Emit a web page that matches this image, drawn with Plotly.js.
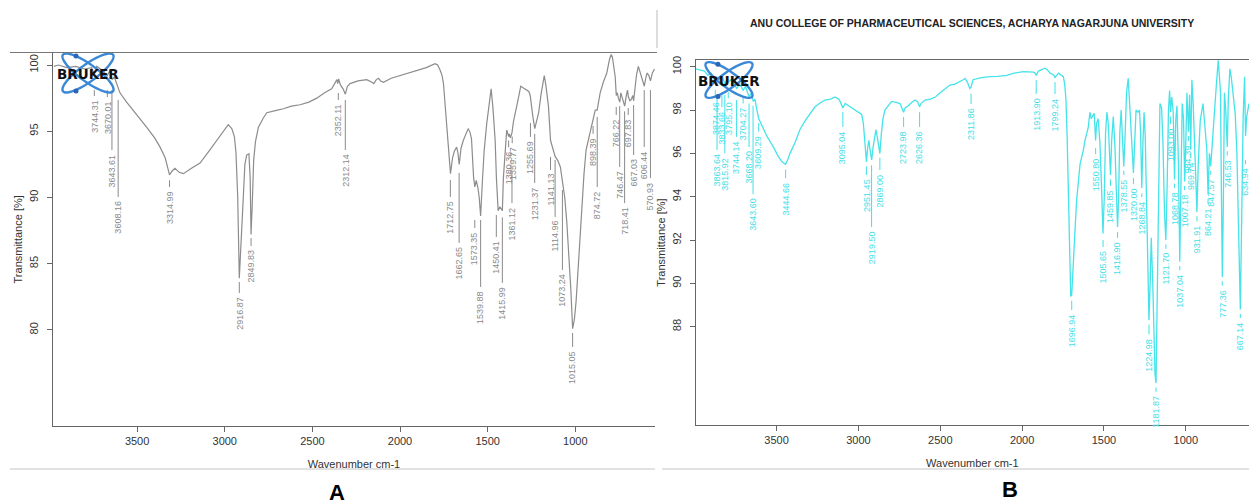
<!DOCTYPE html>
<html><head><meta charset="utf-8">
<script src="https://cdn.plot.ly/plotly-3.0.1.min.js"></script>
<style>html,body{margin:0;padding:0;background:#fff;}#chart{width:1249px;height:504px;}</style>
</head><body><div id="chart"></div>
<script>
// ---------- Spectrum A (grey) ----------
const wavenumberA = [3975,3950,3900,3850,3800,3760,3744,3730,3700,3670,3655,3643,3630,3608,3598,3560,3522,3480,3445,3400,3369,3340,3315,3300,3284,3260,3236,3190,3141,3090,3046,3010,2980,2960,2945,2936,2926,2917,2905,2894,2885,2875,2862,2855,2850,2843,2835,2825,2808,2780,2760,2700,2665,2620,2570,2520,2475,2430,2390,2360,2355,2350,2340,2325,2312,2300,2285,2240,2190,2160,2150,2135,2123,2110,2095,2050,2000,1950,1904,1850,1800,1785,1771,1760,1752,1742,1733,1720,1712,1700,1690,1677,1670,1662,1652,1639,1620,1611,1600,1592,1580,1573,1565,1555,1548,1540,1530,1520,1505,1490,1480,1470,1457,1450,1440,1430,1416,1410,1400,1391,1380,1376,1370,1361,1353,1345,1334,1320,1311,1300,1290,1277,1265,1257,1250,1242,1231,1220,1209,1195,1185,1177,1168,1160,1153,1141,1130,1122,1115,1100,1085,1073,1060,1048,1035,1025,1015,1005,995,985,975,962,950,938,920,905,898,886,875,865,858,840,820,805,795,788,780,772,766,760,754,746,740,735,725,718,710,702,697,688,680,672,667,660,650,640,630,620,612,606,598,590,580,571,560,548];
const transmittanceA = [99.9,100.0,99.8,99.9,99.7,99.8,99.3,99.9,99.6,99.2,99.6,98.9,99.1,98.2,97.9,97.2,96.6,95.9,95.3,94.5,93.8,93.0,91.7,92.0,92.2,91.9,91.8,92.2,92.6,93.5,94.3,95.0,95.5,95.2,94.6,93.4,90.0,83.9,87.0,89.8,92.5,93.2,93.3,91.5,87.2,89.5,92.8,94.2,95.3,96.0,96.4,96.6,96.7,96.9,97.0,97.2,97.5,97.9,98.2,98.9,98.6,98.95,98.5,98.2,97.8,98.4,98.6,98.8,98.9,98.7,98.6,98.9,99.0,98.8,98.7,99.0,99.2,99.4,99.6,99.8,100.1,100.0,99.6,99.2,98.6,97.0,95.6,93.2,91.8,93.0,93.5,93.8,93.4,92.5,93.7,94.3,95.0,95.2,94.9,94.4,91.5,90.8,91.3,90.7,90.0,88.6,91.2,93.5,95.6,97.3,98.2,96.8,94.3,91.5,89.0,89.3,89.0,91.5,93.5,95.1,94.6,94.8,94.5,94.9,95.7,96.3,96.9,97.8,98.4,98.3,98.2,98.1,98.0,97.7,96.8,96.1,95.2,95.8,96.4,97.8,98.8,99.2,98.5,97.8,96.9,94.3,93.8,93.5,93.1,92.8,92.3,91.2,90.0,88.1,85.5,83.0,80.1,80.8,82.2,84.3,86.8,89.3,91.8,93.6,94.7,95.6,95.8,96.6,96.6,97.3,97.9,98.7,99.4,100.4,100.8,100.6,99.8,99.1,97.7,97.9,97.5,97.2,97.9,97.7,97.3,96.9,97.6,98.1,97.6,97.3,97.4,97.7,97.3,98.2,99.3,99.9,99.5,99.1,98.7,98.4,99.0,99.4,99.2,98.8,99.4,99.7];
const peakLabelsA = ["3744.31","3670.01","3643.61","3608.16","3314.99","2916.87","2849.83","2352.11","2312.14","1712.75","1662.65","1573.35","1539.88","1450.41","1415.99","1380.36","1359.77","1361.12","1255.69","1231.37","1141.13","1114.96","1073.24","1015.05","898.39","874.72","766.22","746.47","718.41","697.83","667.03","606.44","570.93"];

// ---------- Spectrum B (cyan) ----------
const wavenumberB = [3994,3960,3940,3920,3900,3874,3863,3850,3833,3816,3800,3795,3775,3744,3725,3704,3690,3668,3652,3643,3632,3620,3609,3590,3560,3520,3489,3465,3445,3432,3418,3387,3357,3326,3296,3265,3230,3204,3170,3143,3120,3112,3095,3080,3060,3040,3021,3000,2980,2970,2960,2951,2943,2936,2928,2919,2910,2900,2893,2884,2876,2869,2860,2850,2838,2820,2797,2770,2746,2735,2724,2715,2695,2675,2654,2640,2626,2618,2593,2560,2530,2500,2470,2441,2410,2380,2360,2349,2335,2320,2312,2300,2250,2196,2150,2094,2050,1993,1950,1930,1921,1914,1900,1880,1860,1845,1829,1815,1805,1799,1790,1778,1760,1748,1740,1732,1725,1718,1710,1703,1697,1690,1680,1667,1646,1626,1616,1596,1586,1578,1570,1560,1551,1545,1535,1525,1515,1506,1498,1490,1482,1474,1466,1460,1453,1443,1433,1423,1417,1411,1403,1395,1386,1379,1372,1362,1352,1343,1330,1320,1312,1304,1292,1283,1276,1269,1262,1255,1248,1240,1232,1225,1218,1211,1202,1195,1188,1182,1176,1168,1158,1148,1140,1130,1122,1114,1106,1099,1093,1086,1077,1069,1061,1054,1045,1037,1030,1022,1014,1007,1000,993,984,977,970,963,955,945,932,924,912,895,882,872,864,856,848,838,826,813,802,795,788,783,777,771,764,756,747,740,731,722,710,698,688,678,667,659,650,641,635,628,620,614];
const transmittanceB = [99.9,99.85,99.8,99.6,99.7,99.3,99.5,99.4,99.6,99.2,99.5,99.3,99.4,99.0,99.2,98.9,99.1,98.6,98.8,98.4,98.5,98.0,97.6,97.3,96.8,96.3,95.85,95.6,95.5,95.7,96.0,96.5,97.1,97.5,97.85,98.15,98.35,98.46,98.5,98.6,98.5,98.4,98.1,98.3,98.2,98.1,98.0,97.9,97.8,97.4,96.3,95.6,96.3,96.6,96.1,95.7,96.3,96.9,97.1,96.7,96.3,96.0,96.9,97.6,98.0,98.2,98.4,98.35,98.3,98.1,97.9,98.1,98.2,98.35,98.46,98.4,98.15,98.3,98.46,98.5,98.6,98.8,99.0,99.15,99.2,99.3,99.4,99.46,99.3,99.0,99.05,99.4,99.5,99.54,99.55,99.6,99.7,99.77,99.75,99.75,99.7,99.6,99.8,99.85,99.93,99.85,99.7,99.65,99.6,99.5,99.6,99.7,99.6,99.54,99.2,98.46,96.8,93.85,91.5,89.4,89.45,90.3,92.0,93.85,95.5,96.15,96.6,97.2,97.9,97.6,97.7,97.85,96.6,97.4,97.6,96.5,94.5,92.3,94.0,97.0,97.9,97.4,96.0,95.0,96.6,97.7,96.3,93.5,92.6,93.8,97.0,98.0,96.8,95.4,96.6,98.8,99.46,98.4,96.5,95.1,96.6,98.0,97.9,98.0,96.9,94.4,96.5,97.9,96.8,93.5,89.8,88.3,90.0,92.1,90.0,87.5,85.8,85.4,88.5,94.5,98.3,98.1,96.6,93.2,92.0,94.5,98.0,98.9,97.9,98.6,97.9,94.8,97.6,98.2,95.5,91.0,94.0,98.3,97.6,94.7,96.5,98.8,97.0,98.7,96.2,99.4,98.3,95.8,93.3,95.5,97.5,98.3,97.3,96.2,94.1,96.0,95.4,96.6,97.9,99.2,100.3,99.5,98.8,94.5,90.3,93.5,98.8,98.0,96.3,98.6,99.9,99.5,98.6,97.8,96.0,92.5,88.8,92.8,97.6,99.54,96.8,97.7,98.1,98.3];
const peakLabelsB = ["3874.46","3863.64","3833.66","3815.92","3795.10","3744.14","3704.27","3668.20","3643.60","3609.29","3444.66","3095.04","2951.45","2919.50","2869.00","2723.98","2626.36","2311.86","1913.90","1799.24","1696.94","1550.80","1505.65","1459.85","1416.90","1378.55","1320.00","1268.84","1224.98","1181.87","1121.70","1093.00","1068.78","1037.04","1007.18","984.39","969.74","931.91","864.21","847.57","777.36","746.53","667.14","634.94"];

// tick values
const xTicks = [3500,3000,2500,2000,1500,1000];
const yTicksA = [80,85,90,95,100];
const yTicksB = [88,90,92,94,96,98,100];

// ---------- label leader-line layout (transmittance where line starts / ends) ----------
const labelLayoutA = [[98.11,97.66],[98.11,97.58],[98.11,93.58],[97.36,90.04],[91.3,90.79],[83.62,82.79],[86.94,86.34],[97.89,97.36],[97.36,93.58],[91.32,90.04],[91.85,86.57],[88.3,87.7],[88.3,83.25],[88.68,87.02],[88.5,83.55],[94.3,93.8],[94.6,94.1],[91.85,89.58],[95.62,94.57],[94.8,91.09],[93.06,92.08],[92.83,88.53],[90.57,84.53],[79.77,78.72],[95.4,94.8],[96.08,90.79],[96.83,96.23],[96.9,92.3],[96.5,89.58],[96.75,96.23],[96.98,93.21],[98.11,93.81],[98.11,91.47]];
const labelLayoutB = [[98.93,98.55],[98.69,96.16],[98.69,98.14],[98.69,96.0],[98.83,98.55],[98.46,96.76],[98.6,98.3],[98.3,96.29],[98.2,94.12],[97.4,97.0],[95.25,94.85],[97.91,97.22],[95.4,95.0],[95.45,92.6],[95.8,95.23],[97.68,97.22],[97.9,97.22],[98.75,98.28],[99.38,98.74],[99.29,98.74],[89.2,88.77],[96.25,95.97],[92.0,91.68],[94.8,94.5],[92.37,92.1],[95.2,95.0],[94.86,94.58],[94.16,93.98],[88.1,87.65],[85.2,85.0],[91.8,91.6],[97.7,97.35],[94.6,94.4],[90.8,90.6],[94.5,94.3],[96.8,96.57],[96.0,95.78],[93.1,92.87],[93.9,93.66],[95.2,95.0],[90.1,89.9],[96.1,95.9],[88.6,88.4],[95.69,95.5]];

const W = 1249, H = 504;
const PX = x => x / W, PY = y => 1 - y / H;
const greyA = '#8c8c8c', cyanB = '#45e3ea';
const FONT = 'Liberation Sans, Arial, sans-serif';

const traces = [
  {x: wavenumberA, y: transmittanceA, type: 'scatter', mode: 'lines', line: {color: greyA, width: 1.2}, xaxis: 'x', yaxis: 'y', hoverinfo: 'skip', showlegend: false},
  {x: wavenumberB, y: transmittanceB, type: 'scatter', mode: 'lines', line: {color: cyanB, width: 1.3}, xaxis: 'x2', yaxis: 'y2', hoverinfo: 'skip', showlegend: false}
];

const shapes = [], annotations = [];
function addLabels(labels, lay, xr, yr, color) {
  labels.forEach((s, i) => {
    const xv = parseFloat(s);
    shapes.push({type: 'line', xref: xr, yref: yr, x0: xv, x1: xv, y0: lay[i][0], y1: lay[i][1], line: {color: color, width: 1}});
    annotations.push({xref: xr, yref: yr, x: xv, y: lay[i][1], text: s, showarrow: false, textangle: -90,
      xanchor: 'center', yanchor: 'top', yshift: -2, font: {family: FONT, size: 9, color: color}});
  });
}
addLabels(peakLabelsA, labelLayoutA, 'x', 'y', '#8a8a8a');
addLabels(peakLabelsB, labelLayoutB, 'x2', 'y2', '#3fe0e8');

// Bruker logos
function ellipsePath(cx, cy, a, b, th) {
  const t = th * Math.PI / 180; let d = '';
  for (let k = 0; k <= 60; k++) {
    const u = 2 * Math.PI * k / 60;
    const ex = a * Math.cos(u), ey = b * Math.sin(u);
    const x = cx + ex * Math.cos(t) - ey * Math.sin(t);
    const y = cy + ex * Math.sin(t) + ey * Math.cos(t);
    d += (k === 0 ? 'M ' : ' L ') + PX(x).toFixed(5) + ',' + PY(y).toFixed(5);
  }
  return d + ' Z';
}
function logo(cx, cy, s) {
  [36, -36].forEach(th => shapes.push({type: 'path', xref: 'paper', yref: 'paper', path: ellipsePath(cx, cy, 31 * s, 8.5 * s, th), line: {color: '#3b88d6', width: 2.4}}));
  [[-12, -17], [-12, 18]].forEach(p => {
    const x = cx + p[0] * s, y = cy + p[1] * s, r = 2.5;
    shapes.push({type: 'circle', xref: 'paper', yref: 'paper', x0: PX(x - r), x1: PX(x + r), y0: PY(y + r), y1: PY(y - r), fillcolor: '#2a66b8', line: {width: 0}});
  });
  annotations.push({xref: 'paper', yref: 'paper', x: PX(cx), y: PY(cy + 1), text: '<b>BRUKER</b>', showarrow: false, xanchor: 'center', yanchor: 'middle', font: {family: 'DejaVu Sans, sans-serif', size: 13.5, color: '#111'}});
}
logo(88, 73, 1.0);
logo(729, 80, 0.92);

// decorations
shapes.push({type: 'line', xref: 'paper', yref: 'paper', x0: PX(10), x1: PX(657), y0: PY(52.5), y1: PY(52.5), line: {color: '#777', width: 1.2}});
shapes.push({type: 'line', xref: 'paper', yref: 'paper', x0: PX(657), x1: PX(657), y0: PY(10), y1: PY(48), line: {color: '#bbb', width: 1}});
shapes.push({type: 'line', xref: 'paper', yref: 'paper', x0: PX(10), x1: PX(655), y0: PY(469), y1: PY(469), line: {color: '#c4c4c4', width: 1}});
shapes.push({type: 'line', xref: 'paper', yref: 'paper', x0: PX(662), x1: PX(1249), y0: PY(469), y1: PY(469), line: {color: '#c4c4c4', width: 1}});

annotations.push({xref: 'paper', yref: 'paper', x: PX(972), y: PY(23), text: '<b>ANU COLLEGE OF PHARMACEUTICAL SCIENCES, ACHARYA NAGARJUNA UNIVERSITY</b>', showarrow: false, xanchor: 'center', yanchor: 'middle', font: {family: FONT, size: 10.5, color: '#222'}});
annotations.push({xref: 'paper', yref: 'paper', x: PX(337), y: PY(492), text: '<b>A</b>', showarrow: false, xanchor: 'center', yanchor: 'middle', font: {family: FONT, size: 22, color: '#000'}});
annotations.push({xref: 'paper', yref: 'paper', x: PX(1010), y: PY(489), text: '<b>B</b>', showarrow: false, xanchor: 'center', yanchor: 'middle', font: {family: FONT, size: 22, color: '#000'}});

const axisBase = {showgrid: false, zeroline: false, showline: true, linecolor: '#666', linewidth: 1.2,
  ticks: 'outside', ticklen: 5, tickcolor: '#666', tickfont: {family: FONT, size: 11, color: '#333'}, fixedrange: true};

const layout = {
  width: W, height: H, margin: {l: 0, r: 0, t: 0, b: 0}, paper_bgcolor: '#fff', plot_bgcolor: '#fff', showlegend: false,
  xaxis: Object.assign({}, axisBase, {domain: [PX(53), PX(655)], range: [3980, 545], tickvals: xTicks, anchor: 'y',
    title: {text: 'Wavenumber cm-1', font: {family: FONT, size: 11, color: '#333'}, standoff: 13}}),
  yaxis: Object.assign({}, axisBase, {domain: [PY(426), PY(52.7)], range: [72.75, 100.93], tickvals: yTicksA, tickangle: -90, anchor: 'x', ticklabelstandoff: 4,
    title: {text: 'Transmittance [%]', font: {family: FONT, size: 11, color: '#333'}, standoff: 3}}),
  xaxis2: Object.assign({}, axisBase, {domain: [PX(695.7), 1], range: [3994, 614], tickvals: xTicks, anchor: 'y2', mirror: true,
    title: {text: 'Wavenumber cm-1', font: {family: FONT, size: 11, color: '#333'}, standoff: 13}}),
  yaxis2: Object.assign({}, axisBase, {domain: [PY(425), PY(60)], range: [83.465, 100.309], tickvals: yTicksB, tickangle: -90, anchor: 'x2', ticklabelstandoff: 4,
    title: {text: 'Transmittance [%]', font: {family: FONT, size: 11, color: '#333'}, standoff: 3}}),
  shapes: shapes, annotations: annotations
};
Plotly.newPlot('chart', traces, layout, {staticPlot: true, displayModeBar: false});
</script></body></html>
